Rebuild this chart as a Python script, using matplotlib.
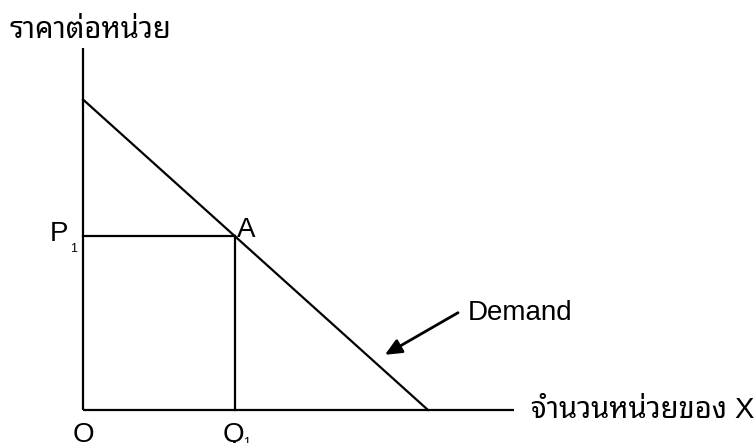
import matplotlib
matplotlib.use("Agg")
import matplotlib.pyplot as plt

# demand diagram values
price_intercept = 9.0       # demand curve meets the price axis
quantity_intercept = 10.0   # demand curve meets the quantity axis
q1 = 4.4
p1 = 5.05
x_axis_end = 12.5
y_axis_end = 10.5

y_label = "ราคาต่อหน่วย"
x_label = "จำนวนหน่วยของ X"
curve_label = "Demand"

FONTS = ["Liberation Sans", "Noto Sans Thai Looped"]
PX = 34.5  # pixels per data unit

fig = plt.figure(figsize=(7.55, 4.43), dpi=100)
ax = fig.add_axes([0, 0, 1, 1])
ax.set_xlim(-83 / PX, (755 - 83) / PX)
ax.set_ylim(-(443 - 410) / PX, 410 / PX)
ax.axis("off")

lw = 1.6
# axes
ax.plot([0, 0], [0, y_axis_end], color="black", lw=lw, solid_capstyle="butt")
ax.plot([0, x_axis_end], [0, 0], color="black", lw=lw, solid_capstyle="butt")
# demand curve
ax.plot([0, quantity_intercept], [price_intercept, 0], color="black", lw=lw)
# P1 / Q1 guides
ax.plot([0, q1], [p1, p1], color="black", lw=lw)
ax.plot([q1, q1], [0, p1], color="black", lw=lw)

# labels
ax.text(-2.12, 11.0, y_label, family=FONTS, fontsize=21, ha="left", va="center")
ax.text(12.99, 0.0, x_label, family=FONTS, fontsize=21, ha="left", va="center")
ax.text(0, -0.35, "O", family=FONTS, fontsize=20, ha="center", va="top")
ax.text(q1 - 0.05, -0.35, "Q", family=FONTS, fontsize=20, ha="center", va="top")
ax.text(q1 + 0.25, -0.95, "1", family=FONTS, fontsize=9, ha="left", va="center")
ax.text(-0.42, p1 + 0.05, "P", family=FONTS, fontsize=20, ha="right", va="center")
ax.text(-0.38, p1 - 0.2, "1", family=FONTS, fontsize=9, ha="left", va="top")
ax.text(q1 + 0.05, p1 + 0.18, "A", family=FONTS, fontsize=20, ha="left", va="center")

# annotation arrow to the demand curve
ax.text(11.16, 2.82, curve_label, family=FONTS, fontsize=20, ha="left", va="center")
ax.annotate(
    "", xy=(8.75, 1.6), xytext=(10.87, 2.82),
    arrowprops=dict(arrowstyle="-|>,head_length=1.0,head_width=0.45", color="black", lw=2,
                    shrinkA=0, shrinkB=0),
)

fig.savefig("out.png", dpi=100)
